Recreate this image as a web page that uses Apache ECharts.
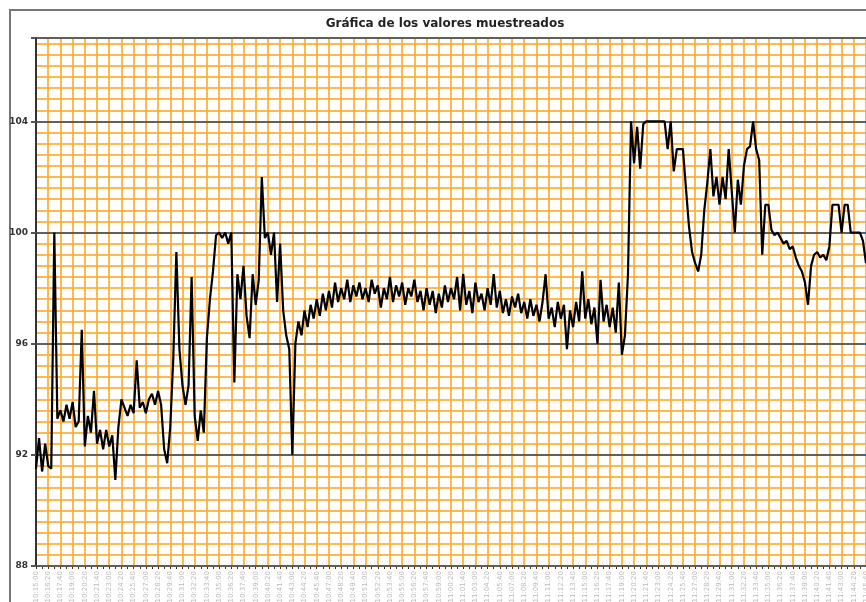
<!DOCTYPE html>
<html>
<head>
<meta charset="utf-8">
<script src="https://cdn.jsdelivr.net/npm/echarts@6/dist/echarts.min.js"></script>
<style>
html,body{margin:0;padding:0;background:#fff;}
#chart{width:866px;height:602px;}
</style>
</head>
<body>
<div id="chart"></div>
<script>
// ---- data ----
var titleText = 'Gráfica de los valores muestreados';
var yTickValues = [88, 92, 96, 100, 104];
var values = [
  91.5, 92.6, 91.4, 92.4, 91.6, 91.5, 100.0, 93.3, 93.6, 93.2,
  93.8, 93.3, 93.9, 93.0, 93.2, 96.5, 92.3, 93.4, 92.8, 94.3,
  92.4, 92.9, 92.2, 92.9, 92.3, 92.7, 91.1, 93.0, 94.0, 93.7,
  93.4, 93.8, 93.5, 95.4, 93.7, 93.9, 93.5, 94.0, 94.2, 93.8,
  94.3, 93.8, 92.2, 91.7, 93.0, 95.5, 99.3, 95.8, 94.5, 93.8,
  94.5, 98.4, 93.4, 92.5, 93.6, 92.8, 96.2, 97.6, 98.6, 99.9,
  100.0, 99.8, 100.0, 99.6, 100.0, 94.6, 98.5, 97.6, 98.8, 97.0,
  96.2, 98.5, 97.4, 98.3, 102.0, 99.8, 100.0, 99.2, 100.0, 97.5,
  99.6, 97.2, 96.3, 95.8, 92.0, 96.0, 96.8, 96.3, 97.2, 96.6,
  97.4, 96.9, 97.6, 97.0, 97.8, 97.2, 97.9, 97.3, 98.2, 97.5,
  98.0, 97.6, 98.3, 97.5, 98.1, 97.7, 98.2, 97.6, 98.0, 97.5,
  98.3, 97.8, 98.1, 97.3, 98.0, 97.6, 98.4, 97.5, 98.1, 97.7,
  98.2, 97.4, 98.0, 97.7, 98.3, 97.5, 97.9, 97.2, 98.0, 97.4,
  97.9, 97.1, 97.8, 97.3, 98.1, 97.5, 98.0, 97.6, 98.4, 97.2,
  98.5, 97.4, 97.9, 97.1, 98.2, 97.5, 97.8, 97.2, 98.0, 97.4,
  98.5, 97.3, 97.9, 97.1, 97.6, 97.0, 97.7, 97.3, 97.8, 97.1,
  97.5, 96.9, 97.6, 97.0, 97.4, 96.8, 97.5, 98.5, 96.9, 97.3,
  96.6, 97.5, 96.9, 97.4, 95.8, 97.2, 96.6, 97.5, 96.8, 98.6,
  96.9, 97.6, 96.7, 97.3, 96.0, 98.3, 96.8, 97.4, 96.6, 97.3,
  96.4, 98.2, 95.6, 96.3, 98.5, 104.0, 102.5, 103.8, 102.3, 103.9,
  104.0, 104.0, 104.0, 104.0, 104.0, 104.0, 104.0, 103.0, 104.0, 102.2,
  103.0, 103.0, 103.0, 101.6, 100.2, 99.3, 98.9, 98.6, 99.2, 100.8,
  101.8, 103.0, 101.3, 102.0, 101.0, 102.0, 101.2, 103.0, 101.5, 100.0,
  101.9, 101.0, 102.4, 103.0, 103.1, 104.0, 103.0, 102.6, 99.2, 101.0,
  101.0, 100.1, 99.9, 100.0, 99.8, 99.6, 99.7, 99.4, 99.5, 99.1,
  98.8, 98.6, 98.2, 97.4, 98.8, 99.2, 99.3, 99.1, 99.2, 99.0,
  99.5, 101.0, 101.0, 101.0, 100.0, 101.0, 101.0, 100.0, 100.0, 100.0,
  100.0, 99.7, 98.9
];
// category labels: sampling times (every 20 s from 10:15:00)
var startSeconds = 10 * 3600 + 15 * 60;
var stepSeconds = 20;
var categories = [];
for (var i = 0; i < values.length; i++) {
  var t = startSeconds + i * stepSeconds;
  var hh = Math.floor(t / 3600), mm = Math.floor((t % 3600) / 60), ss = t % 60;
  categories.push((hh < 10 ? '0' : '') + hh + ':' + (mm < 10 ? '0' : '') + mm + ':' + (ss < 10 ? '0' : '') + ss);
}

var chart = echarts.init(document.getElementById('chart'), null, {renderer: 'canvas'});
chart.setOption({
  animation: false,
  backgroundColor: '#ffffff',
  title: {
    text: titleText,
    left: 440,
    textAlign: 'center',
    top: 13,
    textStyle: {fontFamily: 'DejaVu Sans', fontWeight: 'bold', fontSize: 12, color: '#222'}
  },
  graphic: [{
    type: 'rect',
    shape: {x: 10, y: 10, width: 900, height: 700},
    style: {fill: 'none', stroke: '#777', lineWidth: 2},
    silent: true
  }],
  grid: {left: 36, right: 0, top: 38, bottom: 36, outerBoundsMode: 'none',
         show: true, borderColor: '#ccc', borderWidth: 1, backgroundColor: '#fff'},
  xAxis: [{
    type: 'category',
    data: categories,
    boundaryGap: false,
    axisLine: {show: true, lineStyle: {color: '#333', width: 2}},
    axisTick: {show: true, interval: 1, length: 3, lineStyle: {color: '#333', width: 1}},
    axisLabel: {show: true, interval: 3, rotate: 90, fontSize: 7, color: '#bbb', margin: 5,
                fontFamily: 'DejaVu Sans'},
    splitLine: {show: true, interval: 3, lineStyle: {color: '#ffad33', width: 2, opacity: 0.85}}
  }],
  yAxis: [{
    type: 'value',
    min: 88, max: 107, interval: 4,
    z: 3,
    axisLine: {show: true, lineStyle: {color: '#333', width: 2}},
    axisTick: {show: true, length: 5, lineStyle: {color: '#555', width: 2}},
    axisLabel: {
      fontSize: 9, fontWeight: 'bold', color: '#333', margin: 8, fontFamily: 'DejaVu Sans',
      formatter: function (v) { return yTickValues.indexOf(v) >= 0 ? String(v) : ''; }
    },
    splitLine: {show: true, lineStyle: {color: '#555', width: 2, opacity: 0.9}}
  }, {
    type: 'value',
    min: 88, max: 107, interval: 0.4,
    position: 'left',
    z: 1,
    axisLine: {show: false},
    axisTick: {show: false},
    axisLabel: {show: false},
    splitLine: {show: true, lineStyle: {color: '#ffad33', width: 2, opacity: 0.85}}
  }],
  series: [{
    type: 'line',
    data: values,
    xAxisIndex: 0,
    yAxisIndex: 0,
    showSymbol: false,
    symbol: 'none',
    z: 10,
    lineStyle: {color: '#000', width: 2.2},
    itemStyle: {color: '#000'}
  }]
});
</script>
</body>
</html>
